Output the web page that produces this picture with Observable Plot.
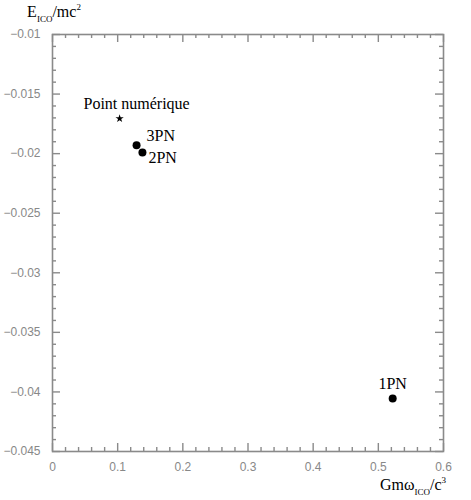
<!DOCTYPE html>
<html>
<head>
<meta charset="utf-8">
<script src="https://cdn.jsdelivr.net/npm/d3@7"></script>
<script src="https://cdn.jsdelivr.net/npm/@observablehq/plot@0.6"></script>
<style>
  html, body { margin: 0; padding: 0; background: #fff; }
  #chart svg { display: block; }
</style>
</head>
<body>
<div id="chart"></div>
<script>
// ---- data ----
const labels = ["Point numérique", "3PN", "2PN", "1PN"];
const omega  = [0.103, 0.129, 0.138, 0.522];
const energy = [-0.01705, -0.0193, -0.0199, -0.04055];
const symbols = ["star", "circle", "circle", "circle"];

const xTicks = [0, 0.1, 0.2, 0.3, 0.4, 0.5, 0.6];
const xTickLabels = ["0", "0.1", "0.2", "0.3", "0.4", "0.5", "0.6"];
const yTicks = [-0.045, -0.04, -0.035, -0.03, -0.025, -0.02, -0.015, -0.01];
const yTickLabels = ["\u22120.045", "\u22120.04", "\u22120.035", "\u22120.03", "\u22120.025", "\u22120.02", "\u22120.015", "\u22120.01"];

const points = labels.map((label, i) => ({label, x: omega[i], y: energy[i], symbol: symbols[i]}));

// minor tick grid (axis structure)
const xMinor = d3.range(0, 31).map(i => i * 0.02).filter(v => Math.abs(v * 10 - Math.round(v * 10)) > 1e-9);
const yMinor = d3.range(0, 36).map(i => -0.045 + i * 0.001).filter(v => Math.abs(v * 200 - Math.round(v * 200)) > 1e-9);

const W = 471, H = 500;
const mL = 52, mR = 28, mT = 34, mB = 49;
const pH = H - mT - mB, pW = W - mL - mR;
const xDom = [0, 0.6], yDom = [-0.045, -0.01];
const axisColor = "#8a8a8a";
const major = 8, minor = 4;

const xFmt = d => xTickLabels[xTicks.findIndex(t => Math.abs(t - d) < 1e-9)];
const yFmt = d => yTickLabels[yTicks.findIndex(t => Math.abs(t - d) < 1e-9)];

const byLabel = l => points.filter(p => p.label === l);
const textStyle = {fontFamily: "Liberation Serif, Times New Roman, serif", fontSize: 16, fill: "#000"};
const tickStyle = {stroke: axisColor, strokeWidth: 1.4};

const plot = Plot.plot({
  width: W, height: H,
  marginLeft: mL, marginRight: mR, marginTop: mT, marginBottom: mB,
  style: {fontFamily: "Liberation Sans, Arial, sans-serif", fontSize: "12px", color: "#888", background: "#fff"},
  x: {domain: xDom, ticks: xTicks, tickFormat: xFmt},
  y: {domain: yDom, ticks: yTicks, tickFormat: yFmt},
  marks: [
    Plot.frame({stroke: axisColor, strokeWidth: 1.6}),
    // tick labels
    Plot.axisX(xTicks, {anchor: "bottom", tickSize: 0, tickPadding: 11, tickFormat: xFmt, label: null, fill: "#888"}),
    Plot.axisY(yTicks, {anchor: "left", tickSize: 0, tickPadding: 12, tickFormat: yFmt, label: null, fill: "#888"}),
    // bottom ticks (inward)
    Plot.ruleX(xTicks, {x: d => d, insetTop: pH - major, ...tickStyle}),
    Plot.ruleX(xMinor, {x: d => d, insetTop: pH - minor, ...tickStyle}),
    // top ticks
    Plot.ruleX(xTicks, {x: d => d, insetBottom: pH - major, ...tickStyle}),
    Plot.ruleX(xMinor, {x: d => d, insetBottom: pH - minor, ...tickStyle}),
    // left ticks
    Plot.ruleY(yTicks, {y: d => d, insetRight: pW - major, ...tickStyle}),
    Plot.ruleY(yMinor, {y: d => d, insetRight: pW - minor, ...tickStyle}),
    // right ticks
    Plot.ruleY(yTicks, {y: d => d, insetLeft: pW - major, ...tickStyle}),
    Plot.ruleY(yMinor, {y: d => d, insetLeft: pW - minor, ...tickStyle}),
    // data
    Plot.dot(points.filter(p => p.symbol === "circle"), {x: "x", y: "y", r: 4, fill: "#000", stroke: "none"}),
    Plot.dot(points.filter(p => p.symbol === "star"), {x: "x", y: "y", symbol: "star", r: 2.6, fill: "#000", stroke: "none"}),
    // labels
    Plot.text(byLabel("Point numérique"), {x: "x", y: "y", text: "label", dx: 17, dy: -15, ...textStyle}),
    Plot.text(byLabel("3PN"), {x: "x", y: "y", text: "label", textAnchor: "start", dx: 10, dy: -9, ...textStyle}),
    Plot.text(byLabel("2PN"), {x: "x", y: "y", text: "label", textAnchor: "start", dx: 6, dy: 5, ...textStyle}),
    Plot.text(byLabel("1PN"), {x: "x", y: "y", text: "label", dx: 0, dy: -15, ...textStyle})
  ]
});

document.getElementById("chart").appendChild(plot);

// axis titles with sub/superscripts
const svg = d3.select(plot);
const serif = "Liberation Serif, Times New Roman, serif";
const yTitle = svg.append("text").attr("x", 54).attr("y", 17)
  .attr("font-family", serif).attr("font-size", 16).attr("fill", "#000");
yTitle.append("tspan").text("E");
yTitle.append("tspan").attr("font-size", 9).attr("dy", 5).text("ICO");
yTitle.append("tspan").attr("dy", -5).text("/mc");
yTitle.append("tspan").attr("font-size", 9).attr("dy", -7).text("2");

const xTitle = svg.append("text").attr("x", 446).attr("y", 490).attr("text-anchor", "end")
  .attr("font-family", serif).attr("font-size", 16).attr("fill", "#000");
xTitle.append("tspan").text("Gm\u03C9");
xTitle.append("tspan").attr("font-size", 9).attr("dy", 5).text("ICO");
xTitle.append("tspan").attr("dy", -5).text("/c");
xTitle.append("tspan").attr("font-size", 9).attr("dy", -7).text("3");
</script>
</body>
</html>
